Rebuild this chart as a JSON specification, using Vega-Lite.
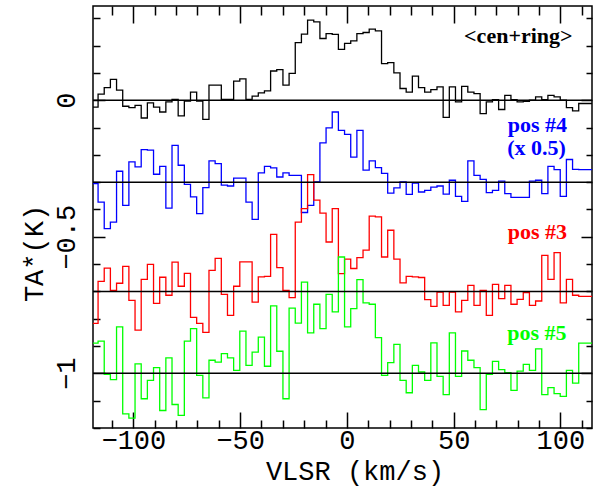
{
  "$schema": "https://vega.github.io/schema/vega-lite/v6.json",
  "autosize": {"type": "none"},
  "padding": {"left": 93, "top": 6, "right": 7, "bottom": 62},
  "width": 499,
  "height": 422,
  "background": "white",
  "config": {"view": {"stroke": "black", "strokeWidth": 1.5}},
  "datasets": {
    "spec": [
      {"v": -120.86, "cen": -0.025, "p4": -0.305, "p3": -0.817, "p5": -0.889},
      {"v": -117.97, "cen": -0.025, "p4": -0.305, "p3": -0.817, "p5": -0.889},
      {"v": -115.08, "cen": 0.022, "p4": -0.373, "p3": -0.663, "p5": -0.882},
      {"v": -112.20, "cen": 0.046, "p4": -0.470, "p3": -0.615, "p5": -1.004},
      {"v": -109.31, "cen": 0.076, "p4": -0.446, "p3": -0.696, "p5": -1.023},
      {"v": -106.43, "cen": 0.037, "p4": -0.260, "p3": -0.670, "p5": -0.830},
      {"v": -103.54, "cen": -0.022, "p4": -0.385, "p3": -0.608, "p5": -1.148},
      {"v": -100.65, "cen": -0.027, "p4": -0.226, "p3": -0.733, "p5": -1.164},
      {"v": -97.77, "cen": -0.019, "p4": -0.244, "p3": -0.842, "p5": -0.965},
      {"v": -94.88, "cen": -0.065, "p4": -0.181, "p3": -0.656, "p5": -1.093},
      {"v": -91.99, "cen": -0.010, "p4": -0.183, "p3": -0.601, "p5": -1.026},
      {"v": -89.11, "cen": -0.025, "p4": -0.271, "p3": -0.744, "p5": -0.979},
      {"v": -86.22, "cen": -0.043, "p4": -0.242, "p3": -0.648, "p5": -1.136},
      {"v": -83.34, "cen": -0.006, "p4": -0.395, "p3": -0.714, "p5": -0.943},
      {"v": -80.45, "cen": 0.003, "p4": -0.165, "p3": -0.593, "p5": -1.114},
      {"v": -77.57, "cen": -0.057, "p4": -0.238, "p3": -0.681, "p5": -1.154},
      {"v": -74.68, "cen": -0.003, "p4": -0.308, "p3": -0.634, "p5": -0.882},
      {"v": -71.79, "cen": 0.030, "p4": -0.354, "p3": -0.795, "p5": -0.836},
      {"v": -68.91, "cen": -0.003, "p4": -0.415, "p3": -0.817, "p5": -1.007},
      {"v": -66.02, "cen": -0.070, "p4": -0.320, "p3": -0.850, "p5": -1.090},
      {"v": -63.14, "cen": 0.055, "p4": -0.222, "p3": -0.623, "p5": -0.952},
      {"v": -60.25, "cen": 0.055, "p4": -0.232, "p3": -0.579, "p5": -0.959},
      {"v": -57.36, "cen": 0.003, "p4": -0.311, "p3": -0.711, "p5": -0.928},
      {"v": -54.48, "cen": 0.003, "p4": -0.314, "p3": -0.788, "p5": -0.943},
      {"v": -51.59, "cen": 0.070, "p4": -0.285, "p3": -0.681, "p5": -0.989},
      {"v": -48.71, "cen": 0.078, "p4": -0.285, "p3": -0.592, "p5": -0.845},
      {"v": -45.82, "cen": 0.003, "p4": -0.373, "p3": -0.592, "p5": -0.971},
      {"v": -42.93, "cen": 0.015, "p4": -0.436, "p3": -0.739, "p5": -0.922},
      {"v": -40.05, "cen": 0.027, "p4": -0.266, "p3": -0.647, "p5": -0.867},
      {"v": -37.16, "cen": 0.034, "p4": -0.242, "p3": -0.645, "p5": -0.974},
      {"v": -34.28, "cen": 0.107, "p4": -0.248, "p3": -0.491, "p5": -0.753},
      {"v": -31.39, "cen": 0.112, "p4": -0.281, "p3": -0.613, "p5": -0.919},
      {"v": -28.50, "cen": 0.055, "p4": -0.266, "p3": -0.696, "p5": -1.093},
      {"v": -25.62, "cen": 0.098, "p4": -0.275, "p3": -0.723, "p5": -0.761},
      {"v": -22.73, "cen": 0.211, "p4": -0.275, "p3": -0.446, "p5": -0.816},
      {"v": -19.85, "cen": 0.242, "p4": -0.411, "p3": -0.397, "p5": -0.666},
      {"v": -16.96, "cen": 0.293, "p4": -0.385, "p3": -0.272, "p5": -0.852},
      {"v": -14.07, "cen": 0.287, "p4": -0.299, "p3": -0.366, "p5": -0.747},
      {"v": -11.19, "cen": 0.226, "p4": -0.156, "p3": -0.413, "p5": -0.836},
      {"v": -8.30, "cen": 0.244, "p4": -0.101, "p3": -0.519, "p5": -0.711},
      {"v": -5.42, "cen": 0.241, "p4": -0.043, "p3": -0.397, "p5": -0.775},
      {"v": -2.53, "cen": 0.186, "p4": -0.110, "p3": -0.635, "p5": -0.574},
      {"v": 0.36, "cen": 0.208, "p4": -0.125, "p3": -0.582, "p5": -0.830},
      {"v": 3.24, "cen": 0.217, "p4": -0.208, "p3": -0.616, "p5": -0.763},
      {"v": 6.13, "cen": 0.244, "p4": -0.110, "p3": -0.576, "p5": -0.657},
      {"v": 9.01, "cen": 0.248, "p4": -0.256, "p3": -0.549, "p5": -0.742},
      {"v": 11.90, "cen": 0.260, "p4": -0.222, "p3": -0.424, "p5": -0.747},
      {"v": 14.79, "cen": 0.254, "p4": -0.247, "p3": -0.427, "p5": -0.869},
      {"v": 17.67, "cen": 0.134, "p4": -0.268, "p3": -0.574, "p5": -1.007},
      {"v": 20.56, "cen": 0.138, "p4": -0.340, "p3": -0.476, "p5": -0.961},
      {"v": 23.44, "cen": 0.100, "p4": -0.321, "p3": -0.582, "p5": -0.894},
      {"v": 26.33, "cen": 0.043, "p4": -0.299, "p3": -0.669, "p5": -1.026},
      {"v": 29.22, "cen": 0.030, "p4": -0.345, "p3": -0.645, "p5": -1.071},
      {"v": 32.10, "cen": 0.088, "p4": -0.303, "p3": -0.647, "p5": -0.971},
      {"v": 34.99, "cen": 0.046, "p4": -0.336, "p3": -0.649, "p5": -0.995},
      {"v": 37.87, "cen": 0.030, "p4": -0.330, "p3": -0.730, "p5": -1.026},
      {"v": 40.76, "cen": 0.039, "p4": -0.318, "p3": -0.755, "p5": -0.888},
      {"v": 43.65, "cen": 0.049, "p4": -0.314, "p3": -0.702, "p5": -1.011},
      {"v": 46.53, "cen": -0.063, "p4": -0.344, "p3": -0.751, "p5": -1.078},
      {"v": 49.42, "cen": 0.049, "p4": -0.293, "p3": -0.702, "p5": -0.852},
      {"v": 52.30, "cen": -0.006, "p4": -0.352, "p3": -0.775, "p5": -1.011},
      {"v": 55.19, "cen": 0.051, "p4": -0.370, "p3": -0.733, "p5": -0.918},
      {"v": 58.08, "cen": 0.030, "p4": -0.222, "p3": -0.678, "p5": -0.952},
      {"v": 60.96, "cen": 0.024, "p4": -0.275, "p3": -0.751, "p5": -0.979},
      {"v": 63.85, "cen": -0.049, "p4": -0.290, "p3": -0.696, "p5": -1.133},
      {"v": 66.73, "cen": -0.006, "p4": -0.338, "p3": -0.788, "p5": -1.004},
      {"v": 69.62, "cen": 0.002, "p4": -0.330, "p3": -0.674, "p5": -0.956},
      {"v": 72.51, "cen": -0.034, "p4": -0.296, "p3": -0.726, "p5": -0.986},
      {"v": 75.39, "cen": 0.018, "p4": -0.342, "p3": -0.678, "p5": -0.997},
      {"v": 78.28, "cen": 0.002, "p4": -0.356, "p3": -0.747, "p5": -1.062},
      {"v": 81.16, "cen": -0.006, "p4": -0.356, "p3": -0.729, "p5": -0.992},
      {"v": 84.05, "cen": -0.004, "p4": -0.356, "p3": -0.704, "p5": -0.967},
      {"v": 86.94, "cen": 0.000, "p4": -0.296, "p3": -0.751, "p5": -0.989},
      {"v": 89.82, "cen": 0.012, "p4": -0.293, "p3": -0.735, "p5": -0.910},
      {"v": 92.71, "cen": 0.002, "p4": -0.342, "p3": -0.568, "p5": -1.078},
      {"v": 95.59, "cen": 0.018, "p4": -0.242, "p3": -0.656, "p5": -1.052},
      {"v": 98.48, "cen": 0.012, "p4": -0.254, "p3": -0.558, "p5": -1.074},
      {"v": 101.37, "cen": 0.000, "p4": -0.352, "p3": -0.742, "p5": -1.084},
      {"v": 104.25, "cen": -0.027, "p4": -0.217, "p3": -0.656, "p5": -0.989},
      {"v": 107.14, "cen": -0.039, "p4": -0.253, "p3": -0.714, "p5": -1.036},
      {"v": 110.02, "cen": -0.012, "p4": -0.254, "p3": -0.718, "p5": -0.889},
      {"v": 112.91, "cen": -0.012, "p4": -0.254, "p3": -0.718, "p5": -0.889},
      {"v": 115.80, "cen": -0.012, "p4": -0.254, "p3": -0.718, "p5": -0.889}
    ],
    "base": [{"b": 0}, {"b": -0.3}, {"b": -0.7}, {"b": -1.0}],
    "labels": [
      {"lv": 80.3, "ly": 0.210, "txt": "<cen+ring>", "s": "cen"},
      {"lv": 89.2, "ly": -0.117, "txt": "pos #4", "s": "p4"},
      {"lv": 88.8, "ly": -0.202, "txt": "(x 0.5)", "s": "p4"},
      {"lv": 89.2, "ly": -0.509, "txt": "pos #3", "s": "p3"},
      {"lv": 89.0, "ly": -0.879, "txt": "pos #5", "s": "p5"}
    ]
  },
  "resolve": {"axis": {"x": "independent", "y": "independent"}},
  "layer": [
    {
      "data": {"name": "spec"},
      "transform": [{"fold": ["cen", "p4", "p3", "p5"], "as": ["s", "t"]}],
      "mark": {"type": "line", "interpolate": "step", "strokeWidth": 1.3, "clip": true},
      "encoding": {
        "x": {
          "field": "v", "type": "quantitative",
          "scale": {"domain": [-118.9, 114.8], "nice": false, "zero": false},
          "axis": {
            "orient": "bottom", "domain": false, "grid": false,
            "values": [-110, -100, -90, -80, -70, -60, -50, -40, -30, -20, -10, 0, 10, 20, 30, 40, 50, 60, 70, 80, 90, 100, 110],
            "labelExpr": "datum.value % 50 === 0 ? datum.label : ''",
            "tickSize": {"condition": {"test": "datum.value % 50 === 0", "value": -16}, "value": -8},
            "tickColor": "black", "tickWidth": 1.5,
            "labelFont": "Liberation Mono", "labelFontSize": 27, "labelColor": "black", "labelPadding": 15,
            "title": "VLSR (km/s)", "titleFont": "Liberation Mono", "titleFontSize": 27,
            "titleFontWeight": "normal", "titleColor": "black",
            "titleX": 261.5, "titleY": 51, "titleBaseline": "alphabetic", "titleAlign": "center"
          }
        },
        "y": {
          "field": "t", "type": "quantitative",
          "scale": {"domain": [-1.2, 0.345], "nice": false, "zero": false},
          "axis": {
            "orient": "left", "domain": false, "grid": false,
            "values": [-1.2, -1.1, -1.0, -0.9, -0.8, -0.7, -0.6, -0.5, -0.4, -0.3, -0.2, -0.1, 0, 0.1, 0.2, 0.3],
            "labelExpr": "abs(datum.value*2 - round(datum.value*2)) < 0.01 ? format(datum.value, '~g') : ''",
            "tickSize": {"condition": {"test": "abs(datum.value*2 - round(datum.value*2)) < 0.01", "value": -12}, "value": -7},
            "tickColor": "black", "tickWidth": 1.5,
            "labelAngle": -90, "labelFont": "Liberation Mono", "labelFontSize": 27, "labelColor": "black", "labelPadding": 25,
            "title": "TA*(K)", "titleFont": "Liberation Mono", "titleFontSize": 27,
            "titleFontWeight": "normal", "titleColor": "black",
            "titleX": -51, "titleY": 247, "titleAngle": -90, "titleBaseline": "alphabetic", "titleAlign": "center"
          }
        },
        "color": {
          "field": "s", "type": "nominal",
          "scale": {"domain": ["cen", "p4", "p3", "p5"], "range": ["black", "#0000ff", "#ff0000", "#00ff00"]},
          "legend": null
        }
      }
    },
    {
      "data": {"name": "base"},
      "mark": {"type": "rule", "color": "black", "strokeWidth": 1.5},
      "encoding": {
        "y": {
          "field": "b", "type": "quantitative",
          "axis": {
            "orient": "right", "domain": false, "grid": false, "labels": false, "title": null,
            "values": [-1.2, -1.1, -1.0, -0.9, -0.8, -0.7, -0.6, -0.5, -0.4, -0.3, -0.2, -0.1, 0, 0.1, 0.2, 0.3],
            "tickSize": {"condition": {"test": "abs(datum.value*2 - round(datum.value*2)) < 0.01", "value": -11}, "value": -6},
            "tickColor": "black", "tickWidth": 1.5
          }
        }
      }
    },
    {
      "data": {"name": "labels"},
      "mark": {"type": "text", "font": "Liberation Serif", "fontWeight": "bold", "fontSize": 22, "align": "center", "baseline": "alphabetic"},
      "encoding": {
        "x": {
          "field": "lv", "type": "quantitative",
          "axis": {
            "orient": "top", "domain": false, "grid": false, "labels": false, "title": null,
            "values": [-110, -100, -90, -80, -70, -60, -50, -40, -30, -20, -10, 0, 10, 20, 30, 40, 50, 60, 70, 80, 90, 100, 110],
            "tickSize": {"condition": {"test": "datum.value % 50 === 0", "value": -17}, "value": -9},
            "tickColor": "black", "tickWidth": 1.5
          }
        },
        "y": {"field": "ly", "type": "quantitative", "axis": null},
        "text": {"field": "txt"},
        "color": {"field": "s", "type": "nominal", "legend": null}
      }
    }
  ]
}
